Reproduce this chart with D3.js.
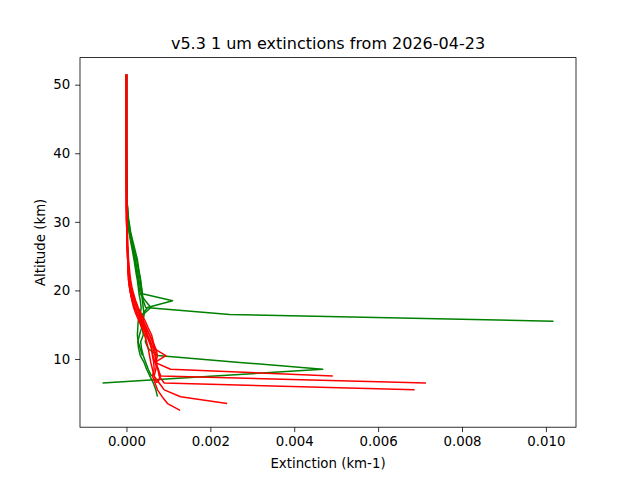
<!DOCTYPE html>
<html>
<head>
<meta charset="utf-8">
<script src="https://cdn.jsdelivr.net/npm/d3@7"></script>
<style>
  html, body { margin: 0; padding: 0; background: #fff; }
  svg { display: block; font-family: "DejaVu Sans", sans-serif; }
</style>
</head>
<body>
<svg id="chart" width="640" height="480"></svg>
<script>
// Altitude levels (km)
const altitudes = [51.5, 45.5, 40.5, 35.5, 32.5, 30.5, 28.5, 26.5, 24.5, 22.5, 21.5, 20.5, 19.5, 18.5, 17.5, 16.5, 15.5, 14.5, 13.5, 12.5, 11.5, 10.5, 9.5, 8.5, 7.5, 6.5, 5.5, 4.5, 3.5, 2.5];

// Green profiles (extinction, km-1), aligned with altitudes; null = no data
const green1 = [0, 0, 0, 0.00001, 0.00002, 0.00004, 0.00009, 0.00016, 0.00024, 0.0003, 0.00033, 0.00035, 0.00038, 0.0004, 0.00046, 0.00246, 0.01018, null, null, null, null, null, null, null, null, null, null, null, null, null];
const green2 = [0, 0, 0, 0.00001, 0.00002, 0.00005, 0.0001, 0.00018, 0.00026, 0.00031, 0.00034, 0.00036, 0.00038, 0.0011, 0.0005, 0.00038, 0.00033, 0.00036, 0.00031, 0.00027, 0.00029, 0.00033, 0.00042, 0.00048, 0.00056, 0.00064, 0.0007, 0.00074, null, null];
const green3 = [0, 0, 0, 0.00001, 0.00002, 0.00004, 0.00008, 0.00014, 0.00021, 0.00027, 0.0003, 0.00033, 0.00036, 0.00038, 0.0004, 0.00042, 0.0004, 0.00043, 0.00047, 0.00045, 0.00052, 0.00074, 0.0027, 0.00468, 0.0021, -0.00057, null, null, null, null];
const green4 = [0, 0, 0, 0, 0.00001, 0.00003, 0.00007, 0.00013, 0.0002, 0.00025, 0.00028, 0.0003, 0.00033, 0.00045, 0.00058, 0.0004, 0.00035, 0.00038, 0.0004, 0.00034, 0.00036, 0.0004, 0.00046, 0.00052, 0.0006, null, null, null, null, null];
const green5 = [0, 0, 0, 0, 0.00001, 0.00003, 0.00006, 0.00012, 0.00018, 0.00023, 0.00026, 0.00028, 0.0003, 0.00033, 0.00035, 0.00033, 0.00028, 0.00027, 0.00026, 0.00028, 0.00033, 0.00038, null, null, null, null, null, null, null, null];

// Red profiles
const red1 = [0, 0, 0, 0, 0.00001, 0.00001, 0.00002, 0.00003, 0.00005, 0.00008, 0.0001, 0.00013, 0.00017, 0.00022, 0.00028, 0.00036, 0.00045, 0.00052, 0.0006, 0.00064, 0.00066, 0.00094, 0.00068, 0.00105, 0.00492, null, null, null, null, null];
const red2 = [0, 0, 0, 0, 0, 0.00001, 0.00001, 0.00002, 0.00003, 0.00005, 0.00007, 0.0001, 0.00013, 0.00018, 0.00024, 0.00031, 0.00038, 0.00045, 0.0005, 0.00056, 0.0006, 0.00063, 0.00068, 0.00075, 0.00082, 0.00714, null, null, null, null];
const red3 = [0, 0, 0, 0, 0, 0, 0.00001, 0.00002, 0.00003, 0.00004, 0.00005, 0.00007, 0.0001, 0.00014, 0.0002, 0.00027, 0.00034, 0.00042, 0.0005, 0.00058, 0.00064, 0.00068, 0.0007, 0.00075, 0.00078, 0.0009, 0.00687, null, null, null];
const red4 = [0, 0, 0, 0, 0, 0.00001, 0.00002, 0.00003, 0.00004, 0.00006, 0.00008, 0.00011, 0.00015, 0.0002, 0.00026, 0.00033, 0.00041, 0.00048, 0.00055, 0.00062, 0.00067, 0.0007, 0.00072, 0.0007, 0.00066, 0.00078, 0.0009, 0.00129, 0.0024, null];
const red5 = [0, 0, 0, 0, 0, 0, 0.00001, 0.00002, 0.00003, 0.00005, 0.00006, 0.00008, 0.00011, 0.00015, 0.0002, 0.00026, 0.00032, 0.0004, 0.00047, 0.00054, 0.0006, 0.00062, 0.00065, 0.00066, 0.00062, 0.00068, 0.00074, 0.00085, 0.00098, 0.00128];
const red6 = [0, 0, 0, 0, 0, 0.00001, 0.00001, 0.00002, 0.00003, 0.00005, 0.00006, 0.00008, 0.0001, 0.00013, 0.00017, 0.00023, 0.0003, 0.00037, 0.00043, 0.00048, 0.00052, 0.00055, 0.00058, 0.00062, 0.00066, 0.00072, null, null, null, null];
const red7 = [0, 0, 0, 0, 0, 0, 0.00001, 0.00002, 0.00003, 0.00004, 0.00005, 0.00007, 0.0001, 0.00014, 0.0002, 0.00027, 0.00036, 0.00046, 0.00055, 0.00063, 0.0007, 0.00074, 0.0007, 0.00076, 0.0008, 0.00075, null, null, null, null];

const greenProfiles = [green1, green2, green3, green4, green5];
const redProfiles = [red1, red2, red3, red4, red5, red6, red7];

const xTicks = [0, 0.002, 0.004, 0.006, 0.008, 0.010];
const yTicks = [10, 20, 30, 40, 50];

const titleText = "v5.3 1 um extinctions from 2026-04-23";
const xLabel = "Extinction (km-1)";
const yLabel = "Altitude (km)";

// Layout (matplotlib default figure)
const mLeft = 80, mRight = 576, mTop = 57.6, mBottom = 427.2;

const allVals = greenProfiles.concat(redProfiles).flat().filter(v => v !== null);
const xMin = d3.min(allVals), xMax = d3.max(allVals);
const xPad = (xMax - xMin) * 0.05;
const yMin = d3.min(altitudes), yMax = d3.max(altitudes);
const yPad = (yMax - yMin) * 0.05;

const x = d3.scaleLinear().domain([xMin - xPad, xMax + xPad]).range([mLeft, mRight]);
const y = d3.scaleLinear().domain([yMin - yPad, yMax + yPad]).range([mBottom, mTop]);

const svg = d3.select("#chart");

svg.append("defs").append("clipPath").attr("id", "clip")
  .append("rect").attr("x", mLeft).attr("y", mTop).attr("width", mRight - mLeft).attr("height", mBottom - mTop);

const line = d3.line()
  .defined(d => d.v !== null)
  .x(d => x(d.v))
  .y(d => y(d.a));

const plot = svg.append("g").attr("clip-path", "url(#clip)");

function drawProfiles(profiles, color) {
  profiles.forEach(p => {
    const pts = p.map((v, i) => ({ v: v, a: altitudes[i] }));
    plot.append("path")
      .datum(pts)
      .attr("fill", "none")
      .attr("stroke", color)
      .attr("stroke-width", 1.5)
      .attr("stroke-linejoin", "round")
      .attr("stroke-linecap", "butt")
      .attr("d", line);
  });
}
drawProfiles(greenProfiles, "#008000");
drawProfiles(redProfiles, "#ff0000");

const xAxis = d3.axisBottom(x).tickValues(xTicks).tickFormat(d3.format(".3f")).tickSizeOuter(0).tickSize(4.9).tickPadding(4.9);
const yAxis = d3.axisLeft(y).tickValues(yTicks).tickFormat(d3.format("d")).tickSizeOuter(0).tickSize(4.9).tickPadding(4.9);

const gx = svg.append("g").attr("transform", `translate(0,${mBottom})`).call(xAxis);
const gy = svg.append("g").attr("transform", `translate(${mLeft},0)`).call(yAxis);
[gx, gy].forEach(g => {
  g.select(".domain").remove();
  g.selectAll(".tick line").attr("stroke", "#000").attr("stroke-width", 0.8);
  g.selectAll(".tick text").attr("fill", "#000").style("font-size", "13.33px").style("font-family", "DejaVu Sans, sans-serif");
});

svg.append("rect")
  .attr("x", mLeft).attr("y", mTop)
  .attr("width", mRight - mLeft).attr("height", mBottom - mTop)
  .attr("fill", "none").attr("stroke", "#000").attr("stroke-width", 0.8);

svg.append("text")
  .attr("x", (mLeft + mRight) / 2).attr("y", 49)
  .attr("text-anchor", "middle")
  .style("font-size", "16px")
  .text(titleText);

svg.append("text")
  .attr("x", (mLeft + mRight) / 2).attr("y", 468)
  .attr("text-anchor", "middle")
  .style("font-size", "13.33px")
  .text(xLabel);

svg.append("text")
  .attr("transform", `translate(45,${(mTop + mBottom) / 2}) rotate(-90)`)
  .attr("text-anchor", "middle")
  .style("font-size", "13.33px")
  .text(yLabel);
</script>
</body>
</html>
